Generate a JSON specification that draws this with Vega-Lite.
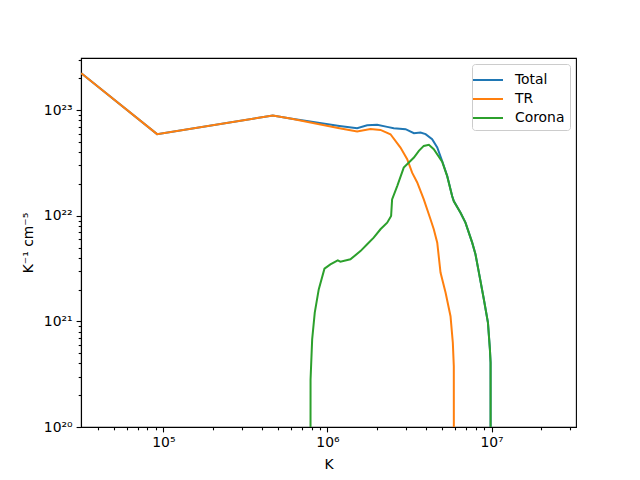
{
  "$schema": "https://vega.github.io/schema/vega-lite/v6.json",
  "width": 495,
  "height": 369,
  "autosize": "none",
  "padding": {"left": 81, "top": 58, "right": 64, "bottom": 53},
  "background": "white",
  "config": {
    "font": "DejaVu Sans",
    "view": {"stroke": "black", "strokeWidth": 1.1},
    "axis": {
      "grid": false,
      "domainColor": "black",
      "domainWidth": 1.1,
      "tickColor": "black",
      "tickWidth": 1.1,
      "labelColor": "black",
      "labelFont": "DejaVu Sans",
      "labelFontSize": 13.9,
      "labelPadding": 4,
      "labelOverlap": false,
      "labelFlush": false,
      "titleFont": "DejaVu Sans",
      "titleFontSize": 13.9,
      "titleFontWeight": "normal",
      "titleColor": "black"
    }
  },
  "data": {
    "values": [
      {"x": 31623, "y": 2.24e23, "s": "Total"},
      {"x": 91600, "y": 5.93e22, "s": "Total"},
      {"x": 464500, "y": 8.91e22, "s": "Total"},
      {"x": 594000, "y": 8.34e22, "s": "Total"},
      {"x": 1183000, "y": 7.10e22, "s": "Total"},
      {"x": 1517000, "y": 6.75e22, "s": "Total"},
      {"x": 1746000, "y": 7.21e22, "s": "Total"},
      {"x": 2009000, "y": 7.26e22, "s": "Total"},
      {"x": 2312000, "y": 6.95e22, "s": "Total"},
      {"x": 2535000, "y": 6.75e22, "s": "Total"},
      {"x": 2992000, "y": 6.61e22, "s": "Total"},
      {"x": 3365000, "y": 6.05e22, "s": "Total"},
      {"x": 3690000, "y": 6.15e22, "s": "Total"},
      {"x": 3963000, "y": 5.93e22, "s": "Total"},
      {"x": 4345000, "y": 5.31e22, "s": "Total"},
      {"x": 4667000, "y": 4.43e22, "s": "Total"},
      {"x": 5000000, "y": 3.30e22, "s": "Total"},
      {"x": 5370000, "y": 2.38e22, "s": "Total"},
      {"x": 5754000, "y": 1.54e22, "s": "Total"},
      {"x": 5888000, "y": 1.38e22, "s": "Total"},
      {"x": 6471000, "y": 1.07e22, "s": "Total"},
      {"x": 6934000, "y": 8.61e21, "s": "Total"},
      {"x": 7621000, "y": 5.57e21, "s": "Total"},
      {"x": 7980000, "y": 4.32e21, "s": "Total"},
      {"x": 8375000, "y": 2.90e21, "s": "Total"},
      {"x": 8974000, "y": 1.62e21, "s": "Total"},
      {"x": 9506000, "y": 9.73e20, "s": "Total"},
      {"x": 9772000, "y": 5.43e20, "s": "Total"},
      {"x": 9863000, "y": 4.07e20, "s": "Total"},
      {"x": 9880000, "y": 1e18, "s": "Total"},

      {"x": 31623, "y": 2.24e23, "s": "TR"},
      {"x": 91600, "y": 5.93e22, "s": "TR"},
      {"x": 464500, "y": 8.91e22, "s": "TR"},
      {"x": 594000, "y": 8.34e22, "s": "TR"},
      {"x": 1183000, "y": 6.75e22, "s": "TR"},
      {"x": 1517000, "y": 6.28e22, "s": "TR"},
      {"x": 1828000, "y": 6.65e22, "s": "TR"},
      {"x": 2104000, "y": 6.50e22, "s": "TR"},
      {"x": 2421000, "y": 5.92e22, "s": "TR"},
      {"x": 2786000, "y": 4.43e22, "s": "TR"},
      {"x": 3062000, "y": 3.44e22, "s": "TR"},
      {"x": 3281000, "y": 2.56e22, "s": "TR"},
      {"x": 3524000, "y": 2.07e22, "s": "TR"},
      {"x": 3864000, "y": 1.43e22, "s": "TR"},
      {"x": 4246000, "y": 9.27e21, "s": "TR"},
      {"x": 4446000, "y": 7.45e21, "s": "TR"},
      {"x": 4667000, "y": 5.57e21, "s": "TR"},
      {"x": 4887000, "y": 2.90e21, "s": "TR"},
      {"x": 5248000, "y": 1.87e21, "s": "TR"},
      {"x": 5623000, "y": 1.12e21, "s": "TR"},
      {"x": 5808000, "y": 6.28e20, "s": "TR"},
      {"x": 5888000, "y": 3.77e20, "s": "TR"},
      {"x": 5900000, "y": 1e18, "s": "TR"},

      {"x": 787000, "y": 1e18, "s": "Corona"},
      {"x": 789000, "y": 2.82e20, "s": "Corona"},
      {"x": 807000, "y": 6.75e20, "s": "Corona"},
      {"x": 837000, "y": 1.21e21, "s": "Corona"},
      {"x": 885000, "y": 2.01e21, "s": "Corona"},
      {"x": 959000, "y": 3.16e21, "s": "Corona"},
      {"x": 1042000, "y": 3.47e21, "s": "Corona"},
      {"x": 1156000, "y": 3.78e21, "s": "Corona"},
      {"x": 1199000, "y": 3.68e21, "s": "Corona"},
      {"x": 1380000, "y": 3.87e21, "s": "Corona"},
      {"x": 1589000, "y": 4.63e21, "s": "Corona"},
      {"x": 1746000, "y": 5.37e21, "s": "Corona"},
      {"x": 1914000, "y": 6.21e21, "s": "Corona"},
      {"x": 2104000, "y": 7.45e21, "s": "Corona"},
      {"x": 2312000, "y": 8.61e21, "s": "Corona"},
      {"x": 2443000, "y": 9.95e21, "s": "Corona"},
      {"x": 2477000, "y": 1.43e22, "s": "Corona"},
      {"x": 2661000, "y": 1.91e22, "s": "Corona"},
      {"x": 2917000, "y": 2.86e22, "s": "Corona"},
      {"x": 3365000, "y": 3.56e22, "s": "Corona"},
      {"x": 3606000, "y": 4.12e22, "s": "Corona"},
      {"x": 3864000, "y": 4.59e22, "s": "Corona"},
      {"x": 4150000, "y": 4.70e22, "s": "Corona"},
      {"x": 4446000, "y": 4.27e22, "s": "Corona"},
      {"x": 5000000, "y": 3.25e22, "s": "Corona"},
      {"x": 5370000, "y": 2.36e22, "s": "Corona"},
      {"x": 5754000, "y": 1.53e22, "s": "Corona"},
      {"x": 5888000, "y": 1.37e22, "s": "Corona"},
      {"x": 6471000, "y": 1.07e22, "s": "Corona"},
      {"x": 6934000, "y": 8.61e21, "s": "Corona"},
      {"x": 7621000, "y": 5.57e21, "s": "Corona"},
      {"x": 7980000, "y": 4.32e21, "s": "Corona"},
      {"x": 8375000, "y": 2.90e21, "s": "Corona"},
      {"x": 8974000, "y": 1.62e21, "s": "Corona"},
      {"x": 9506000, "y": 9.73e20, "s": "Corona"},
      {"x": 9772000, "y": 5.43e20, "s": "Corona"},
      {"x": 9863000, "y": 4.07e20, "s": "Corona"},
      {"x": 9880000, "y": 1e18, "s": "Corona"}
    ]
  },
  "mark": {"type": "line", "clip": true, "strokeWidth": 2},
  "encoding": {
    "x": {
      "field": "x",
      "type": "quantitative",
      "scale": {"type": "log", "domain": [31500, 32700000], "nice": false},
      "axis": {
        "title": "K",
        "titlePadding": 8,
        "values": [40000, 50000, 60000, 70000, 80000, 90000, 100000, 200000, 300000, 400000, 500000, 600000, 700000, 800000, 900000, 1000000, 2000000, 3000000, 4000000, 5000000, 6000000, 7000000, 8000000, 9000000, 10000000, 20000000, 30000000],
        "labelExpr": "datum.value == 100000 ? '10⁵' : datum.value == 1000000 ? '10⁶' : datum.value == 10000000 ? '10⁷' : ''",
        "tickSize": {"condition": {"test": "datum.value == 100000 || datum.value == 1000000 || datum.value == 10000000", "value": 4.9}, "value": 2.8}
      }
    },
    "y": {
      "field": "y",
      "type": "quantitative",
      "scale": {"type": "log", "domain": [1e20, 3.12e23], "nice": false},
      "axis": {
        "title": "K⁻¹ cm⁻⁵",
        "titlePadding": 8,
        "values": [1e20, 2e20, 3e20, 4e20, 5e20, 6e20, 7e20, 8e20, 9e20, 1e21, 2e21, 3e21, 4e21, 5e21, 6e21, 7e21, 8e21, 9e21, 1e22, 2e22, 3e22, 4e22, 5e22, 6e22, 7e22, 8e22, 9e22, 1e23, 2e23, 3e23],
        "labelExpr": "datum.value == 1e20 ? '10²⁰' : datum.value == 1e21 ? '10²¹' : datum.value == 1e22 ? '10²²' : datum.value == 1e23 ? '10²³' : ''",
        "tickSize": {"condition": {"test": "datum.value == 1e20 || datum.value == 1e21 || datum.value == 1e22 || datum.value == 1e23", "value": 4.9}, "value": 2.8}
      }
    },
    "color": {
      "field": "s",
      "type": "nominal",
      "sort": ["Total", "TR", "Corona"],
      "scale": {"domain": ["Total", "TR", "Corona"], "range": ["#1f77b4", "#ff7f0e", "#2ca02c"]},
      "legend": {
        "title": null,
        "orient": "top-right",
        "offset": 6,
        "padding": 5,
        "strokeColor": "#cccccc",
        "cornerRadius": 3,
        "fillColor": "white",
        "symbolType": "M-1.5,0H1.5",
        "symbolSize": 400,
        "symbolStrokeWidth": 2,
        "labelOffset": 16,
        "labelFontSize": 13.9,
        "labelFont": "DejaVu Sans",
        "labelColor": "black",
        "rowPadding": 1
      }
    }
  }
}
